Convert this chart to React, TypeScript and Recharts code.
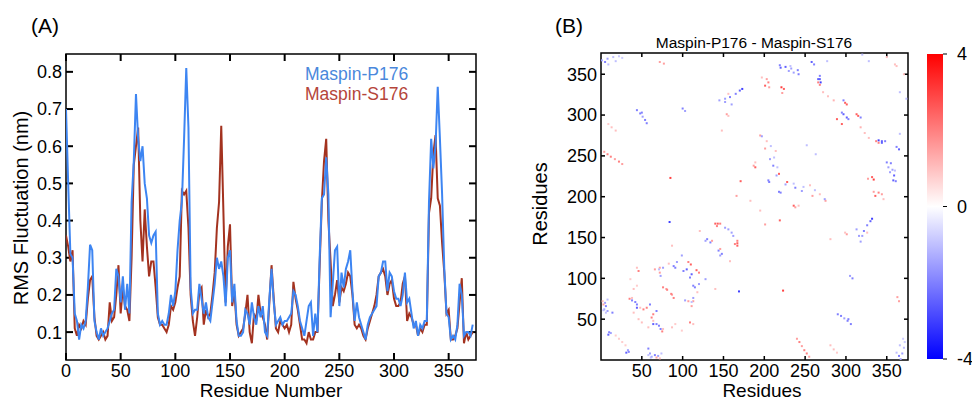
import { ComposedChart, Line, XAxis, YAxis, ScatterChart, Scatter, BarChart, Bar, ReferenceArea } from "recharts";

const FONT = '"Liberation Sans", Arial, Helvetica, sans-serif';

// residue numbers (every second residue)
const residues = [
  0, 2, 4, 6, 8, 10, 12, 14, 16, 18,
  20, 22, 24, 26, 28, 30, 32, 34, 36, 38,
  40, 42, 44, 46, 48, 50, 52, 54, 56, 58,
  60, 62, 64, 66, 68, 70, 72, 74, 76, 78,
  80, 82, 84, 86, 88, 90, 92, 94, 96, 98,
  100, 102, 104, 106, 108, 110, 112, 114, 116, 118,
  120, 122, 124, 126, 128, 130, 132, 134, 136, 138,
  140, 142, 144, 146, 148, 150, 152, 154, 156, 158,
  160, 162, 164, 166, 168, 170, 172, 174, 176, 178,
  180, 182, 184, 186, 188, 190, 192, 194, 196, 198,
  200, 202, 204, 206, 208, 210, 212, 214, 216, 218,
  220, 222, 224, 226, 228, 230, 232, 234, 236, 238,
  240, 242, 244, 246, 248, 250, 252, 254, 256, 258,
  260, 262, 264, 266, 268, 270, 272, 274, 276, 278,
  280, 282, 284, 286, 288, 290, 292, 294, 296, 298,
  300, 302, 304, 306, 308, 310, 312, 314, 316, 318,
  320, 322, 324, 326, 328, 330, 332, 334, 336, 338,
  340, 342, 344, 346, 348, 350, 352, 354, 356, 358,
  360, 362, 364, 366, 368, 370, 372,
];

const rmsfP176 = [
  0.70, 0.50, 0.31, 0.30, 0.15, 0.13, 0.08, 0.12, 0.11, 0.13,
  0.22, 0.335, 0.32, 0.13, 0.10, 0.08, 0.11, 0.09, 0.10, 0.11,
  0.13, 0.15, 0.16, 0.27, 0.25, 0.18, 0.25, 0.16, 0.23, 0.15,
  0.45, 0.56, 0.74, 0.62, 0.56, 0.60, 0.50, 0.46, 0.36, 0.34,
  0.36, 0.37, 0.15, 0.12, 0.13, 0.12, 0.12, 0.15, 0.20, 0.17,
  0.21, 0.32, 0.40, 0.45, 0.62, 0.81, 0.65, 0.22, 0.15, 0.16,
  0.16, 0.23, 0.19, 0.15, 0.18, 0.14, 0.13, 0.18, 0.23, 0.30,
  0.27, 0.29, 0.25, 0.17, 0.30, 0.32, 0.18, 0.23, 0.13, 0.09,
  0.09, 0.10, 0.16, 0.15, 0.12, 0.18, 0.14, 0.12, 0.17, 0.14,
  0.17, 0.10, 0.09, 0.19, 0.27, 0.18, 0.12, 0.13, 0.14, 0.12,
  0.13, 0.13, 0.14, 0.15, 0.21, 0.20, 0.17, 0.13, 0.11, 0.09,
  0.13, 0.17, 0.18, 0.09, 0.15, 0.10, 0.30, 0.46, 0.47, 0.57,
  0.47, 0.14, 0.23, 0.32, 0.33, 0.17, 0.26, 0.22, 0.27, 0.29,
  0.32, 0.21, 0.13, 0.18, 0.14, 0.12, 0.10, 0.08, 0.12, 0.14,
  0.15, 0.16, 0.17, 0.25, 0.26, 0.29, 0.29, 0.21, 0.26, 0.25,
  0.21, 0.19, 0.19, 0.17, 0.20, 0.26, 0.18, 0.19, 0.15, 0.11,
  0.13, 0.09, 0.12, 0.11, 0.13, 0.13, 0.45, 0.62, 0.54, 0.60,
  0.76, 0.62, 0.47, 0.27, 0.15, 0.14, 0.08, 0.09, 0.08, 0.12,
  0.23, 0.20, 0.09, 0.10, 0.10, 0.09, 0.12,
];

const rmsfS176 = [
  0.36, 0.33, 0.29, 0.32, 0.11, 0.09, 0.12, 0.11, 0.13, 0.12,
  0.19, 0.24, 0.25, 0.14, 0.09, 0.08, 0.09, 0.10, 0.08, 0.09,
  0.18, 0.13, 0.14, 0.20, 0.28, 0.15, 0.22, 0.17, 0.16, 0.13,
  0.30, 0.55, 0.60, 0.65, 0.40, 0.29, 0.43, 0.33, 0.25, 0.29,
  0.29, 0.22, 0.14, 0.12, 0.12, 0.11, 0.10, 0.12, 0.17, 0.16,
  0.18, 0.22, 0.25, 0.48, 0.47, 0.48, 0.38, 0.20, 0.13, 0.09,
  0.14, 0.21, 0.22, 0.12, 0.16, 0.14, 0.15, 0.20, 0.26, 0.38,
  0.45, 0.655, 0.42, 0.18, 0.33, 0.39, 0.17, 0.21, 0.12, 0.09,
  0.10, 0.11, 0.15, 0.20, 0.10, 0.07, 0.15, 0.13, 0.20, 0.15,
  0.14, 0.12, 0.08, 0.18, 0.28, 0.19, 0.11, 0.10, 0.13, 0.12,
  0.11, 0.12, 0.10, 0.12, 0.235, 0.19, 0.16, 0.12, 0.08, 0.08,
  0.07, 0.10, 0.08, 0.08, 0.10, 0.10, 0.28, 0.45, 0.56, 0.62,
  0.40, 0.29, 0.17, 0.20, 0.24, 0.18, 0.22, 0.21, 0.23, 0.26,
  0.25, 0.20, 0.12, 0.11, 0.12, 0.11, 0.09, 0.08, 0.11, 0.13,
  0.15, 0.17, 0.20, 0.25, 0.26, 0.27, 0.25, 0.20, 0.23, 0.24,
  0.19, 0.17, 0.17, 0.18, 0.23, 0.25, 0.13, 0.15, 0.14, 0.12,
  0.12, 0.09, 0.11, 0.10, 0.12, 0.12, 0.42, 0.46, 0.58, 0.63,
  0.46, 0.44, 0.34, 0.26, 0.15, 0.16, 0.08, 0.08, 0.09, 0.11,
  0.18, 0.245, 0.07, 0.10, 0.08, 0.09, 0.10,
];

const residueTicks = [0, 50, 100, 150, 200, 250, 300, 350];
const rmsfTicks = [0.1, 0.2, 0.3, 0.4, 0.5, 0.6, 0.7, 0.8];
const residueDomain = [0, 375];
const rmsfDomain = [0.025, 0.848];

// contact-map difference (P176 - S176), one triangle; mirrored below
const diffI = [
  62, 66, 70, 74, 58, 34, 33, 31, 58, 60, 61, 68, 72, 26, 30, 75, 73, 71, 62, 64,
  68, 64, 68, 76, 87, 99, 91, 89, 87, 86, 111, 113, 113, 115, 120, 109, 120, 117, 111, 113,
  103, 107, 111, 109, 113, 140, 158, 148, 144, 146, 167, 167, 167, 146, 164, 160, 162, 169, 223, 240,
  243, 246, 249, 252, 255, 281, 285, 289, 290, 294, 298, 302, 306, 305, 308, 362, 366, 370, 318, 320,
  322, 326, 330, 332, 313, 316, 301, 299, 332, 327, 334, 340, 358, 350, 352, 354, 360, 340, 344, 337,
  362, 366, 315, 313, 295, 301, 303, 318, 328, 323, 318, 361, 359, 357, 355, 334, 336, 344, 365, 344,
  340, 348, 365, 363, 367, 369, 371, 372, 365, 303, 238, 242, 275, 259, 246, 238, 226, 220, 218, 228,
  236, 248, 263, 256, 262, 268, 274, 236, 281, 219, 195, 201, 326, 366, 374, 371, 362, 346, 58, 50,
  64, 128, 118,
];
const diffJ = [
  4, 6, 5, 8, 6, 10, 12, 9, 14, 8, 3, 3, 2, 22, 18, 35, 38, 42, 52, 56,
  60, 44, 44, 38, 40, 36, 44, 76, 80, 81, 66, 72, 76, 89, 93, 101, 107, 110, 105, 91,
  73, 72, 71, 46, 44, 87, 121, 130, 134, 136, 140, 143, 146, 128, 142, 156, 152, 84, 85, 26,
  22, 17, 12, 8, 4, 18, 13, 9, 56, 54, 51, 48, 44, 103, 100, 9, 18, 26, 145, 152,
  158, 165, 170, 173, 160, 152, 154, 156, 224, 222, 206, 205, 220, 242, 236, 230, 232, 269, 268, 268,
  261, 277, 299, 301, 289, 297, 295, 297, 272, 278, 285, 219, 226, 233, 241, 221, 201, 203, 258, 266,
  266, 268, 72, 77, 1, 8, 15, 22, 5, 50, 187, 189, 195, 201, 207, 211, 215, 205, 206, 218,
  216, 212, 252, 214, 208, 203, 197, 189, 148, 171, 183, 166, 156, 328, 320, 350, 360, 197, 40, 46,
  48, 99, 83,
];
const diffValue = [
  -1.5, -2, -1.5, -1, -1, -2, -1.5, -2.5, -2, -1.5, -1, 1.5, 1, 0.8, 0.8, 2, -2, -2, 2, 2,
  -2, -2.5, -2, 1, 1, 0.8, 0.8, 2, 1.5, 2, 1.5, 1.5, -1.5, -2, -1.5, -2, 2, 2.5, -2.5, -2,
  -1.5, 1.5, -1, 2, 1, 1, 1, -2, -2, 1.5, 2.5, 2.5, 2, -1.5, 2, -1.5, -1.5, -3, 3, 1.5,
  2, 1.5, 2, 2, 1.5, 1, 1, 0.8, -2, -2, -1.5, -2, -2, -1.5, -2, -1, -1, -0.8, -1.5, -1.5,
  -2, -2, -2.5, -3, -1.5, -1.5, 1.5, 1, 2.5, 1.5, 1.5, 2, -2.5, -2, -1.5, -1.5, -1, -3, -2.5, 2,
  -2, -1, 2.5, 2.5, 2.5, -2.5, -2, -2, 1, 1, 1.2, -2, -2.5, -1.5, -2, 3, 2.5, 1.5, -2.5, -2.5,
  2, -2, 1.5, 1.5, -1.5, -1.5, -1, -0.8, -2, -2, 1.5, 1, 1.5, 1.5, -1.5, -2, -1.5, -2, -2, 2.5,
  -1, -1, -1, 1, -1, 1, -1.5, 2.5, 1, 2.5, 1, 1.5, 1, -1, -1, 1, 1, 1, 1, 1,
  1, -1.5, 1,
];
const mapTicks = [50, 100, 150, 200, 250, 300, 350];
const mapDomain = [0, 376];
const colorTicks = [-4, 0, 4];

const rmsfData = residues.map((r, i) => ({ residue: r, p176: rmsfP176[i], s176: rmsfS176[i] }));
const diffCells = diffI.flatMap((a, k) => [
  { x: a, y: diffJ[k], v: diffValue[k] },
  { x: diffJ[k], y: a, v: diffValue[k] },
]);
const colorBarData = [{ name: "scale", range: [-4, 4] }];

// inward tick stubs at both ends of a zero-width / zero-height reference area
function makeXTickPair(len: number, w: number) {
  return (p: any) => {
    const x = p.x + p.width / 2;
    return (
      <g>
        <rect x={x - w / 2} y={p.y} width={w} height={len} fill="#000" />
        <rect x={x - w / 2} y={p.y + p.height - len} width={w} height={len} fill="#000" />
      </g>
    );
  };
}
function makeYTickPair(len: number, w: number) {
  return (p: any) => {
    const y = p.y + p.height / 2;
    return (
      <g>
        <rect x={p.x} y={y - w / 2} width={len} height={w} fill="#000" />
        <rect x={p.x + p.width - len} y={y - w / 2} width={len} height={w} fill="#000" />
      </g>
    );
  };
}
const ColorTickMark = (p: any) => {
  const y = p.y + p.height / 2;
  return <rect x={p.x + p.width} y={y - 0.5} width={4} height={1} fill="#000" />;
};

function cellColor(v: number) {
  const t = Math.max(-1, Math.min(1, v / 4));
  if (t >= 0) {
    const c = Math.round(255 * (1 - t));
    return `rgb(255,${c},${c})`;
  }
  const c = Math.round(255 * (1 + t));
  return `rgb(${c},${c},255)`;
}

const DiffCell = (props: any) => {
  const { cx, cy, payload } = props;
  if (cx == null || cy == null) return null;
  return <rect x={cx - 1} y={cy - 1} width={2} height={2} fill={cellColor(payload.v)} />;
};

type Side = "bottom" | "left";
function makeLabel(side: Side, fmt: (v: number) => string = String) {
  return (props: any) => {
    const { x, y, payload } = props;
    if (side === "bottom")
      return (
        <text x={x} y={y + 4} dy="0.71em" textAnchor="middle" fontSize={18} fontFamily={FONT} fill="#000">
          {fmt(payload.value)}
        </text>
      );
    return (
      <text x={x - 4} y={y} dy="0.355em" textAnchor="end" fontSize={18} fontFamily={FONT} fill="#000">
        {fmt(payload.value)}
      </text>
    );
  };
}

const ColorBarShape = (props: any) => {
  const { x, y, width, height } = props;
  return <rect x={x} y={y} width={width} height={height} fill="url(#bwr)" />;
};

const ColorLabel = (props: any) => {
  const { x, y, payload } = props;
  return (
    <text x={x + 14} y={y} dy="0.355em" textAnchor="start" fontSize={18} fontFamily={FONT} fill="#000">
      {payload.value}
    </text>
  );
};

const axisBase = { tickSize: 0, tickMargin: 0, axisLine: false, tickLine: false, allowDataOverflow: true } as const;
const frameStyle = { fill: "none", fillOpacity: 0, stroke: "#000", strokeWidth: 1.5, ifOverflow: "visible" } as const;

const abs = (left: number, top: number, extra: any = {}) => ({
  position: "absolute" as const,
  left,
  top,
  fontFamily: FONT,
  color: "#000",
  whiteSpace: "nowrap" as const,
  lineHeight: 1,
  ...extra,
});

export default function App() {
  const rmsfXTick = makeXTickPair(7, 2);
  const rmsfYTick = makeYTickPair(7, 2);
  const mapXTick = makeXTickPair(4, 1.5);
  const mapYTick = makeYTickPair(4, 1.5);
  return (
    <div style={{ position: "absolute", left: 0, top: 0, width: 972, height: 402, background: "#fff", overflow: "hidden" }}>
      {/* (A) RMS fluctuation */}
      <div style={{ position: "absolute", left: 0, top: 0 }}>
        <ComposedChart width={500} height={402} data={rmsfData} margin={{ top: 54, right: 24, bottom: 0, left: 0 }}>
          <XAxis
            {...axisBase}
            xAxisId="b"
            dataKey="residue"
            type="number"
            domain={residueDomain}
            ticks={residueTicks}
            height={42}
            tick={makeLabel("bottom")}
          />
          <YAxis
            {...axisBase}
            yAxisId="l"
            type="number"
            domain={rmsfDomain}
            ticks={rmsfTicks}
            width={66}
            tick={makeLabel("left", (v) => v.toFixed(1))}
          />
          <Line
            xAxisId="b"
            yAxisId="l"
            type="linear"
            dataKey="s176"
            stroke="#a3321f"
            strokeWidth={2}
            dot={false}
            isAnimationActive={false}
          />
          <Line
            xAxisId="b"
            yAxisId="l"
            type="linear"
            dataKey="p176"
            stroke="#3d85f2"
            strokeWidth={2}
            dot={false}
            isAnimationActive={false}
          />
          {residueTicks.map((v) => (
            <ReferenceArea
              key={`xt${v}`}
              xAxisId="b"
              yAxisId="l"
              x1={v}
              x2={v}
              y1={rmsfDomain[0]}
              y2={rmsfDomain[1]}
              ifOverflow="visible"
              shape={rmsfXTick}
            />
          ))}
          {rmsfTicks.map((v) => (
            <ReferenceArea
              key={`yt${v}`}
              xAxisId="b"
              yAxisId="l"
              x1={residueDomain[0]}
              x2={residueDomain[1]}
              y1={v}
              y2={v}
              ifOverflow="visible"
              shape={rmsfYTick}
            />
          ))}
          <ReferenceArea
            xAxisId="b"
            yAxisId="l"
            x1={residueDomain[0]}
            x2={residueDomain[1]}
            y1={rmsfDomain[0]}
            y2={rmsfDomain[1]}
            {...frameStyle}
          />
        </ComposedChart>
      </div>
      <div style={abs(31, 15, { fontSize: 21 })}>(A)</div>
      <div style={abs(305, 65, { fontSize: 17.5, lineHeight: "19.5px", color: "#4a88dc" })}>Maspin-P176</div>
      <div style={abs(305, 84.5, { fontSize: 17.5, lineHeight: "19.5px", color: "#b5453a" })}>Maspin-S176</div>
      <div style={abs(21, 207.5, { fontSize: 20, transform: "translate(-50%, -50%) rotate(-90deg)" })}>
        RMS Fluctuation (nm)
      </div>
      <div style={abs(271, 383, { fontSize: 19, lineHeight: "16px", transform: "translateX(-50%)" })}>
        Residue Number
      </div>

      {/* (B) contact difference map */}
      <div style={{ position: "absolute", left: 520, top: 0 }}>
        <ScatterChart width={400} height={402} margin={{ top: 53, right: 12, bottom: 0, left: 0 }}>
          <XAxis
            {...axisBase}
            xAxisId="b"
            dataKey="x"
            type="number"
            domain={mapDomain}
            ticks={mapTicks}
            height={42}
            tick={makeLabel("bottom")}
          />
          <YAxis
            {...axisBase}
            yAxisId="l"
            dataKey="y"
            type="number"
            domain={mapDomain}
            ticks={mapTicks}
            width={81}
            tick={makeLabel("left")}
          />
          <Scatter xAxisId="b" yAxisId="l" data={diffCells} shape={DiffCell} isAnimationActive={false} />
          {mapTicks.map((v) => (
            <ReferenceArea
              key={`mx${v}`}
              xAxisId="b"
              yAxisId="l"
              x1={v}
              x2={v}
              y1={mapDomain[0]}
              y2={mapDomain[1]}
              ifOverflow="visible"
              shape={mapXTick}
            />
          ))}
          {mapTicks.map((v) => (
            <ReferenceArea
              key={`my${v}`}
              xAxisId="b"
              yAxisId="l"
              x1={mapDomain[0]}
              x2={mapDomain[1]}
              y1={v}
              y2={v}
              ifOverflow="visible"
              shape={mapYTick}
            />
          ))}
          <ReferenceArea
            xAxisId="b"
            yAxisId="l"
            x1={mapDomain[0]}
            x2={mapDomain[1]}
            y1={mapDomain[0]}
            y2={mapDomain[1]}
            {...frameStyle}
          />
        </ScatterChart>
      </div>
      <div style={abs(555, 15, { fontSize: 21 })}>(B)</div>
      <div style={abs(754, 35, { fontSize: 15.5, transform: "translateX(-50%)" })}>Maspin-P176 - Maspin-S176</div>
      <div style={abs(540, 204, { fontSize: 20, transform: "translate(-50%, -50%) rotate(-90deg)" })}>Residues</div>
      <div style={abs(762, 383, { fontSize: 19, lineHeight: "16px", transform: "translateX(-50%)" })}>Residues</div>

      {/* colour scale */}
      <div style={{ position: "absolute", left: 920, top: 0 }}>
        <BarChart width={52} height={402} data={colorBarData} margin={{ top: 54, right: 0, bottom: 43, left: 7 }} barCategoryGap={0}>
          <defs>
            <linearGradient id="bwr" x1="0" y1="0" x2="0" y2="1">
              <stop offset="0" stopColor="#ff0000" />
              <stop offset="0.5" stopColor="#ffffff" />
              <stop offset="1" stopColor="#0000ff" />
            </linearGradient>
          </defs>
          <XAxis dataKey="name" hide />
          <YAxis
            orientation="right"
            type="number"
            domain={[-4, 4]}
            ticks={colorTicks}
            width={29}
            tickSize={0}
            tickMargin={0}
            axisLine={false}
            tickLine={false}
            tick={ColorLabel}
          />
          <Bar dataKey="range" shape={ColorBarShape} isAnimationActive={false} />
          {colorTicks.map((t) => (
            <ReferenceArea key={`ct${t}`} y1={t} y2={t} ifOverflow="visible" shape={ColorTickMark} />
          ))}
        </BarChart>
      </div>
    </div>
  );
}
